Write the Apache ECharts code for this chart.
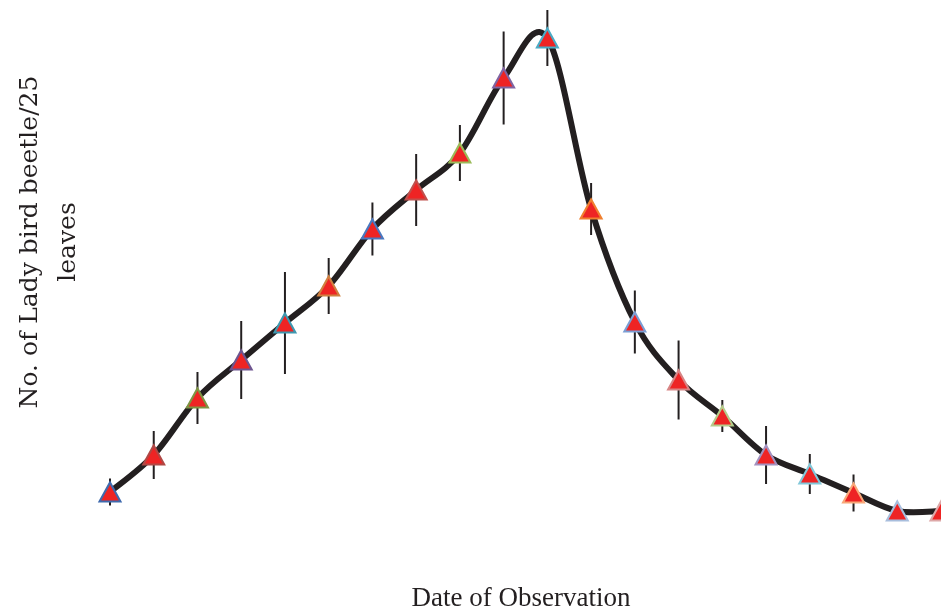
<!DOCTYPE html>
<html>
<head>
<meta charset="utf-8">
<script src="https://cdn.jsdelivr.net/npm/echarts@6/dist/echarts.min.js"></script>
<style>
html,body{margin:0;padding:0;background:#fff;}
#chart{width:941px;height:611px;}
</style>
</head>
<body>
<div id="chart"></div>
<script>
// Observation sequence (dates not printed on the chart)
const categories = ['1','2','3','4','5','6','7','8','9','10','11','12','13','14','15','16','17','18','19','20'];
// Mean number of lady bird beetles per 25 leaves
const beetleMeans = [0.76, 1.50, 2.64, 3.40, 4.14, 4.88, 6.02, 6.80, 7.54, 9.04, 9.84, 6.42, 4.16, 3.00, 2.28, 1.50, 1.12, 0.74, 0.38, 0.38];
// Error (± half-length of error bar)
const beetleErrors = [0.27, 0.48, 0.52, 0.78, 1.02, 0.56, 0.53, 0.72, 0.56, 0.93, 0.56, 0.52, 0.63, 0.79, 0.32, 0.58, 0.40, 0.37, 0.0, 0.0];
// Marker outline colours (point by point)
const markerBorders = ['#3F6AAE','#B04845','#7E9443','#6E5590','#3E98B0','#D08040',
  '#4A78C0','#C0504D','#9BBB59','#8064A2','#4BACC6','#F08030',
  '#7B9ED4','#D88585','#B5CC8A','#A392C0','#82C8DA','#F8A878','#A8BEDD','#DDA8A8'];

const chart = echarts.init(document.getElementById('chart'));

const n = beetleMeans.length;
const lineData = beetleMeans.map((m, i) => [i, m]);
const errData = beetleMeans.map((m, i) => [i, m - beetleErrors[i], m + beetleErrors[i]]);
const markerData = beetleMeans.map((m, i) => ({
  value: m,
  itemStyle: { color: '#EE2424', opacity: 1, borderColor: markerBorders[i], borderWidth: 2 }
}));

// Spreadsheet-style smoothed line: cubic Bezier segments with Catmull-Rom (1/6) tangents
function renderCurveSegment(params, api) {
  const i = params.dataIndex;
  if (i >= n - 1) return null;
  const pt = j => api.coord([Math.max(0, Math.min(n - 1, j)), beetleMeans[Math.max(0, Math.min(n - 1, j))]]);
  const p0 = pt(i - 1), p1 = pt(i), p2 = pt(i + 1), p3 = pt(i + 2);
  const c1 = [p1[0] + (p2[0] - p0[0]) / 6, p1[1] + (p2[1] - p0[1]) / 6];
  const c2 = [p2[0] - (p3[0] - p1[0]) / 6, p2[1] - (p3[1] - p1[1]) / 6];
  return {
    type: 'bezierCurve',
    shape: { x1: p1[0], y1: p1[1], cpx1: c1[0], cpy1: c1[1], cpx2: c2[0], cpy2: c2[1], x2: p2[0], y2: p2[1] },
    style: { stroke: '#231F20', lineWidth: 6, fill: null, lineCap: 'round' }
  };
}

chart.setOption({
  animation: false,
  backgroundColor: '#ffffff',
  grid: { left: 110, right: 0, top: 30, bottom: 81, containLabel: false },
  xAxis: {
    type: 'category', data: categories, boundaryGap: false,
    axisLine: { show: false }, axisTick: { show: false }, axisLabel: { show: false }, splitLine: { show: false }
  },
  yAxis: {
    type: 'value', min: 0, max: 10,
    axisLine: { show: false }, axisTick: { show: false }, axisLabel: { show: false }, splitLine: { show: false }
  },
  graphic: [
    {
      type: 'text', x: 49, y: 242, rotation: Math.PI / 2,
      style: {
        text: 'No. of Lady bird beetle/25\nleaves',
        font: '25px "DejaVu Serif"', fill: '#231F20',
        align: 'center', verticalAlign: 'middle', lineHeight: 38
      }
    },
    {
      type: 'text', x: 521, y: 599,
      style: {
        text: 'Date of Observation',
        font: '27px "Liberation Serif"', fill: '#231F20',
        align: 'center', verticalAlign: 'middle'
      }
    }
  ],
  series: [
    {
      type: 'custom', z: 2, data: lineData, clip: false,
      renderItem: renderCurveSegment
    },
    {
      type: 'custom', z: 3, data: errData,
      renderItem: function (params, api) {
        const x = api.value(0);
        const lo = api.coord([x, api.value(1)]);
        const hi = api.coord([x, api.value(2)]);
        return {
          type: 'line',
          shape: { x1: lo[0], y1: lo[1], x2: hi[0], y2: hi[1] },
          style: { stroke: '#231F20', lineWidth: 2 }
        };
      }
    },
    {
      type: 'scatter', data: markerData, symbol: 'triangle', symbolSize: [21, 19], z: 4,
      emphasis: { disabled: true }
    }
  ]
});
</script>
</body>
</html>
